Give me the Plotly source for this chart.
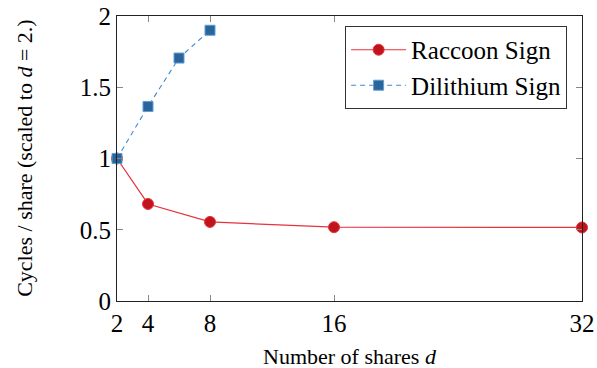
import plotly.graph_objects as go

shares_raccoon = [2, 4, 8, 16, 32]
raccoon = [1.0, 0.681, 0.555, 0.518, 0.516]
shares_dilithium = [2, 4, 6, 8]
dilithium = [1.0, 1.365, 1.705, 1.90]
x_ticks = [2, 4, 8, 16, 32]
y_ticks = [0, 0.5, 1, 1.5, 2]
y_tick_text = ["0", "0.5", "1", "1.5", "2"]
x_title = "Number of shares <i>d</i>"
y_title = "Cycles / share (scaled to <i>d</i> = 2.)"

font = "Liberation Serif"

fig = go.Figure()
fig.add_trace(go.Scatter(
    x=shares_raccoon, y=raccoon, name="Raccoon Sign", mode="lines+markers",
    line=dict(color="#e8323c", width=1.2),
    marker=dict(symbol="circle", size=11, color="#c0141c", line=dict(color="#e8323c", width=1)),
    cliponaxis=False,
))
fig.add_trace(go.Scatter(
    x=shares_dilithium, y=dilithium, name="Dilithium Sign", mode="lines+markers",
    line=dict(color="#3f8ad0", width=1.1, dash="5px,4px"),
    marker=dict(symbol="square", size=10, color="#2a6499", line=dict(color="#5b9fd8", width=1)),
    cliponaxis=False,
))

fig.update_layout(
    width=597, height=368,
    margin=dict(l=117, r=15, t=16, b=67),
    paper_bgcolor="white", plot_bgcolor="white",
    font=dict(family=font, color="black", size=20),
    showlegend=True,
    legend=dict(
        x=0.968, y=0.965, xanchor="right", yanchor="top",
        bgcolor="white", bordercolor="#333", borderwidth=1,
        font=dict(family=font, size=25),
        itemwidth=55, tracegroupgap=0,
    ),
    xaxis=dict(
        range=[2, 32], tickvals=x_ticks, ticktext=[str(v) for v in x_ticks],
        ticks="inside", ticklen=6, tickcolor="#888", showgrid=False, zeroline=False,
        showline=True, linecolor="#222", linewidth=1.2, mirror="ticks",
        tickfont=dict(family=font, size=25), automargin=False,
    ),
    yaxis=dict(
        range=[0, 2], tickvals=y_ticks, ticktext=y_tick_text,
        ticks="inside", ticklen=6, tickcolor="#888", showgrid=False, zeroline=False,
        showline=True, linecolor="#222", linewidth=1.2, mirror="ticks",
        tickfont=dict(family=font, size=25), automargin=False,
    ),
    annotations=[
        dict(text=x_title, xref="paper", yref="paper", x=0.5, y=-0.193,
             xanchor="center", yanchor="middle", showarrow=False,
             font=dict(family=font, size=22)),
        dict(text=y_title, xref="paper", yref="paper", x=-0.198, y=0.502,
             xanchor="center", yanchor="middle", showarrow=False, textangle=-90,
             font=dict(family=font, size=22)),
    ],
)

fig.write_html("out.html")
